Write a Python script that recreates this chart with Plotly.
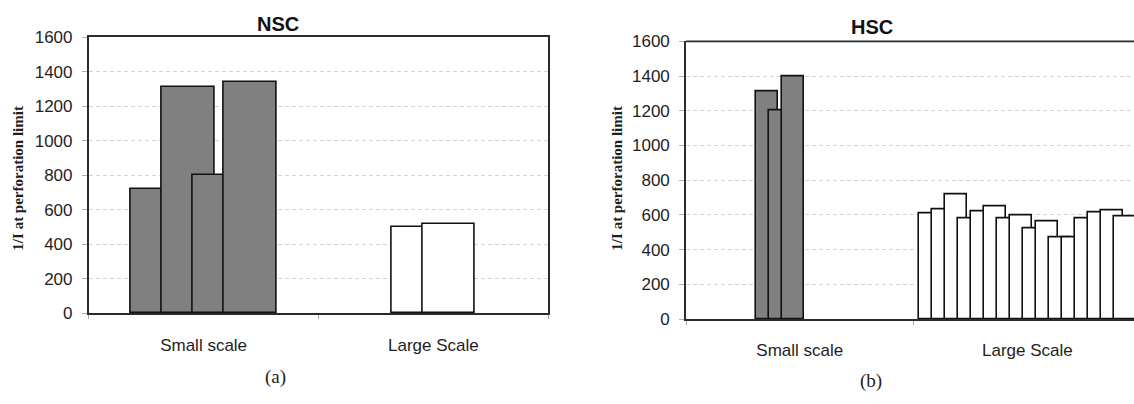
import plotly.graph_objects as go

# ---------------- data ----------------
categories = ["Small scale", "Large Scale"]
nsc_small = [720, 1310, 800, 1340]
nsc_large = [500, 520]
hsc_small = [1310, 1200, 1400]
hsc_large = [610, 630, 720, 580, 620, 650, 580, 595, 520, 565, 470, 470, 580, 615, 625, 590]
y_ticks = [0, 200, 400, 600, 800, 1000, 1200, 1400, 1600]

# ---------------- geometry / style ----------------
W, H = 1134, 404
PX_A = 229.8   # px per category, panel (a)
PX_B = 227.6   # px per category, panel (b)
GRAY = "#808080"
EDGE = "#111111"
FRAME = "#2b2b2b"
TXT = "#1e1e1e"
SANS = "Liberation Sans, Arial, sans-serif"
SERIF = "Liberation Serif, Times New Roman, serif"


def group_x(cat_idx, n, step, offset=0.0):
    return [cat_idx + offset + (i - (n - 1) / 2) * step for i in range(n)]


def bar_trace(values, cat_idx, width, step, fill, xa, ya, offset=0.0):
    return go.Bar(
        x=group_x(cat_idx, len(values), step, offset),
        y=values,
        width=width,
        marker=dict(color=fill, line=dict(color=EDGE, width=1.6)),
        xaxis=xa, yaxis=ya, hoverinfo="y", showlegend=False,
    )


fig = go.Figure()
# panel (a) NSC
wa, sa = 53 / PX_A, 31 / PX_A
fig.add_trace(bar_trace(nsc_small, 0, wa, sa, GRAY, "x", "y"))
fig.add_trace(bar_trace(nsc_large, 1, 52 / PX_A, sa, "white", "x", "y"))
# panel (b) HSC
wb, sb = 22 / PX_B, 13 / PX_B
fig.add_trace(bar_trace(hsc_small, 0, wb, sb, GRAY, "x2", "y2", offset=-20 / PX_B))
fig.add_trace(bar_trace(hsc_large, 1, wb, sb, "white", "x2", "y2"))

common_x = dict(
    tickvals=[0, 1], ticktext=categories, ticks="", showgrid=False, zeroline=False,
    showline=True, linecolor=FRAME, linewidth=1.6,
    tickfont=dict(family=SANS, size=17, color=TXT), ticklabelstandoff=15,
    minor=dict(tickmode="array", tickvals=[-0.5, 0.5, 1.5], ticks="outside",
               ticklen=4, tickcolor="#aaaaaa", tickwidth=1, showgrid=False),
)
common_y = dict(
    range=[0, 1600], tickvals=y_ticks, ticks="outside", ticklen=5, tickcolor="#b0b0b0",
    showgrid=True, gridcolor="#d4d4d4", griddash="4px,3px", gridwidth=1,
    zeroline=False, showline=True, linecolor=FRAME, linewidth=1.6,
    tickfont=dict(family=SANS, size=17, color=TXT), ticklabelstandoff=6,
)

fig.update_layout(
    width=W, height=H, autosize=False,
    margin=dict(l=0, r=0, t=0, b=0),
    paper_bgcolor="white", plot_bgcolor="white",
    barmode="overlay", bargap=0, showlegend=False,
    xaxis=dict(common_x, domain=[88.7 / W, 548.3 / W], range=[-0.5, 1.5],
               anchor="y", mirror=True),
    yaxis=dict(common_y, domain=[1 - 319.5 / H, 1 - 29.4 / H], anchor="x", mirror=True),
    xaxis2=dict(common_x, domain=[686 / W, 1.0], range=[-0.5, -0.5 + (W - 686) / PX_B],
                anchor="y2"),
    yaxis2=dict(common_y, domain=[1 - 325.3 / H, 1 - 34 / H], anchor="x2"),
    shapes=[dict(type="line", xref="x2 domain", yref="y2 domain", x0=0, x1=1, y0=1, y1=1,
                 line=dict(color=FRAME, width=1.6))],
)

ann = [
    dict(text="<b>NSC</b>", x=278 / W, y=1 - 16 / H, font=dict(family=SANS, size=20, color="#111")),
    dict(text="<b>HSC</b>", x=872 / W, y=1 - 19 / H, font=dict(family=SANS, size=20, color="#111")),
    dict(text="<b>1/I at perforation limit</b>", x=18 / W, y=1 - 178 / H, textangle=-90,
         font=dict(family=SERIF, size=15, color=TXT)),
    dict(text="<b>1/I at perforation limit</b>", x=617 / W, y=1 - 178 / H, textangle=-90,
         font=dict(family=SERIF, size=15, color=TXT)),
    dict(text="(a)", x=275 / W, y=1 - 386 / H, font=dict(family=SERIF, size=19, color=TXT)),
    dict(text="(b)", x=871 / W, y=1 - 390 / H, font=dict(family=SERIF, size=19, color=TXT)),
]
for a in ann:
    a.update(xref="paper", yref="paper", showarrow=False, xanchor="center", yanchor="middle")
    fig.add_annotation(**a)

fig.write_html("out.html")
